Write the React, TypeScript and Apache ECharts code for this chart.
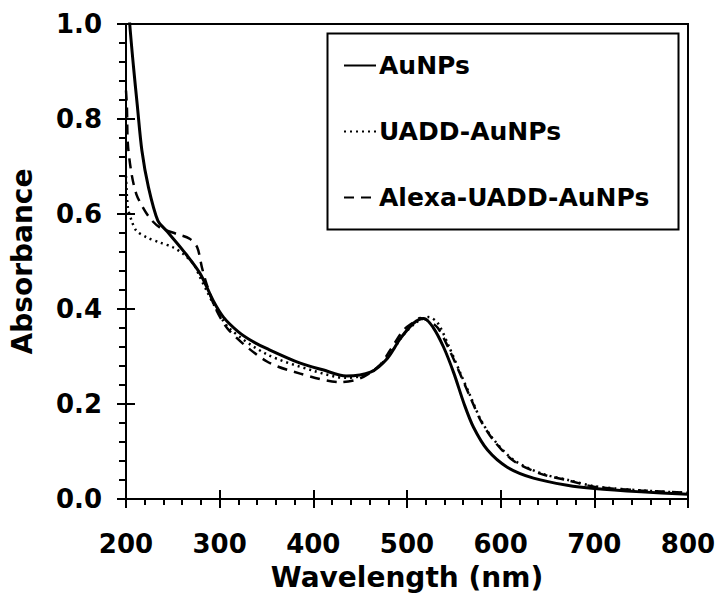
import React, { useEffect, useRef } from "react";
import * as echarts from "echarts";

// Wavelength (nm) / absorbance samples
const auWl = [200, 204, 208, 212, 217, 224, 234, 244, 261, 279, 293, 304, 320, 335, 350, 386, 410, 435, 461, 479, 493, 507, 518, 528, 539, 550, 561, 571, 586, 607, 635, 671, 700, 750, 800];
const auAbs = [1.12, 1.0, 0.91, 0.83, 0.733, 0.656, 0.586, 0.563, 0.523, 0.475, 0.418, 0.383, 0.352, 0.332, 0.317, 0.286, 0.272, 0.259, 0.267, 0.296, 0.338, 0.37, 0.38, 0.361, 0.32, 0.265, 0.2, 0.151, 0.103, 0.067, 0.044, 0.029, 0.022, 0.015, 0.01];

const uaddWl = [200, 202, 206, 211, 222, 236, 250, 261, 272, 279, 286, 295, 310, 350, 400, 435, 460, 480, 496, 510, 523, 533, 545, 557, 568, 579, 593, 614, 643, 672, 700, 750, 800];
const uaddAbs = [0.68, 0.614, 0.586, 0.565, 0.551, 0.54, 0.53, 0.516, 0.495, 0.467, 0.439, 0.405, 0.36, 0.305, 0.27, 0.255, 0.265, 0.3, 0.345, 0.372, 0.383, 0.37, 0.32, 0.265, 0.215, 0.166, 0.124, 0.082, 0.054, 0.04, 0.027, 0.018, 0.013];

const alexaWl = [200, 201, 202, 206, 211, 218, 226, 236, 254, 268, 276, 281, 286, 295, 310, 350, 386, 429, 450, 470, 482, 496, 507, 514, 523, 533, 545, 557, 568, 579, 593, 614, 643, 672, 700, 750, 800];
const alexaAbs = [0.86, 0.824, 0.747, 0.684, 0.642, 0.614, 0.59, 0.572, 0.558, 0.548, 0.53, 0.488, 0.453, 0.404, 0.355, 0.29, 0.264, 0.246, 0.254, 0.28, 0.313, 0.355, 0.372, 0.381, 0.375, 0.36, 0.315, 0.262, 0.212, 0.164, 0.122, 0.08, 0.053, 0.039, 0.026, 0.018, 0.013];

const seriesNames = ["AuNPs", "UADD-AuNPs", "Alexa-UADD-AuNPs"];

const xTicks = { min: 200, max: 800, interval: 100 };
const yTicks = { min: 0, max: 1.0, interval: 0.2 };

const FONT = "'DejaVu Sans', Verdana, sans-serif";

const zip = (xs: number[], ys: number[]) => xs.map((x, i) => [x, ys[i]]);

export default function App() {
  const ref = useRef<HTMLDivElement>(null);
  useEffect(() => {
    if (!ref.current) return;
    const chart = echarts.init(ref.current, null, { renderer: "svg" });
    const labelStyle = { color: "#000", fontFamily: FONT, fontWeight: "bold" as const, fontSize: 26 };
    const baseX = {
      type: "value" as const,
      min: xTicks.min,
      max: xTicks.max,
      interval: xTicks.interval,
      splitLine: { show: false },
    };
    const baseY = {
      type: "value" as const,
      min: yTicks.min,
      max: yTicks.max,
      interval: yTicks.interval,
      splitLine: { show: false },
    };
    chart.setOption({
      animation: false,
      backgroundColor: "#fff",
      grid: { left: 126, right: 31, top: 24, bottom: 97, show: true, borderColor: "#000", borderWidth: 2, backgroundColor: "transparent" },
      xAxis: [
        {
          ...baseX,
          position: "bottom",
          name: "Wavelength (nm)",
          nameLocation: "middle",
          nameGap: 64,
          nameTextStyle: { ...labelStyle, fontSize: 28 },
          axisLine: { show: true, onZero: false, lineStyle: { color: "#000", width: 2 } },
          axisTick: { show: true, inside: false, length: 9, lineStyle: { color: "#000", width: 2 } },
          minorTick: { show: true, splitNumber: 5, length: 6, lineStyle: { color: "#000", width: 2 } },
          axisLabel: { ...labelStyle, margin: 32, formatter: (v: number) => String(v) },
        },
        {
          ...baseX,
          position: "bottom",
          axisLine: { show: false, onZero: false },
          axisTick: { show: true, inside: true, length: 9, lineStyle: { color: "#000", width: 2 } },
          axisLabel: { show: false },
        },
      ],
      yAxis: [
        {
          ...baseY,
          position: "left",
          name: "Absorbance",
          nameLocation: "middle",
          nameGap: 90,
          nameTextStyle: { ...labelStyle, fontSize: 28 },
          axisLine: { show: true, onZero: false, lineStyle: { color: "#000", width: 2 } },
          axisTick: { show: true, inside: false, length: 9, lineStyle: { color: "#000", width: 2 } },
          minorTick: { show: true, splitNumber: 5, length: 7, lineStyle: { color: "#000", width: 2 } },
          axisLabel: { ...labelStyle, margin: 24, formatter: (v: number) => v.toFixed(1) },
        },
        {
          ...baseY,
          position: "left",
          axisLine: { show: false, onZero: false },
          axisTick: { show: true, inside: true, length: 9, lineStyle: { color: "#000", width: 2 } },
          axisLabel: { show: false },
        },
      ],
      legend: {
        show: true,
        orient: "vertical",
        left: 343,
        top: 53,
        padding: 0,
        itemWidth: 32,
        itemHeight: 24,
        itemGap: 41,
        data: seriesNames,
        itemStyle: { opacity: 0 },
        textStyle: { color: "#000", fontFamily: FONT, fontWeight: "bold", fontSize: 25, padding: [0, 0, 0, -2] },
        selectedMode: false,
      },
      graphic: [
        { type: "rect", left: 325, top: 31, shape: { width: 351, height: 196 }, style: { fill: "none", stroke: "#000", lineWidth: 2 }, silent: true },
      ],
      series: [
        {
          name: seriesNames[0],
          type: "line",
          data: zip(auWl, auAbs),
          smooth: 0.3,
          symbol: "none",
          clip: true,
          lineStyle: { color: "#000", width: 3, type: "solid" },
          itemStyle: { color: "#000" },
          z: 3,
        },
        {
          name: seriesNames[1],
          type: "line",
          data: zip(uaddWl, uaddAbs),
          smooth: 0.3,
          symbol: "none",
          clip: true,
          lineStyle: { color: "#000", width: 2.5, type: [2, 4] },
          itemStyle: { color: "#000" },
          z: 2,
        },
        {
          name: seriesNames[2],
          type: "line",
          data: zip(alexaWl, alexaAbs),
          smooth: 0.3,
          symbol: "none",
          clip: true,
          lineStyle: { color: "#000", width: 2.5, type: [10, 7] },
          itemStyle: { color: "#000" },
          z: 2,
        },
      ],
    });
    return () => chart.dispose();
  }, []);
  return <div ref={ref} style={{ width: 719, height: 596, position: "absolute", left: 0, top: 0 }} />;
}
